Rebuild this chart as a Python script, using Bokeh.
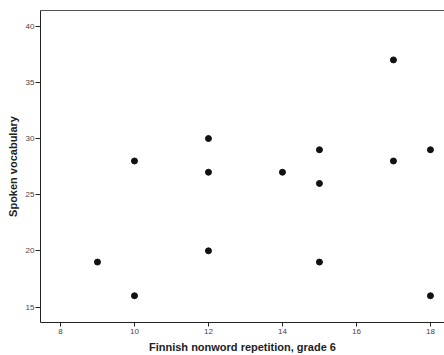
from bokeh.plotting import figure
from bokeh.models import LinearAxis, FixedTicker, Range1d
from bokeh.embed import file_html
from bokeh.resources import INLINE

# Data
nonword_rep = [9, 10, 10, 12, 12, 12, 14, 15, 15, 15, 17, 17, 18, 18]
spoken_vocab = [19, 28, 16, 30, 27, 20, 27, 29, 26, 19, 37, 28, 29, 16]
x_ticks = [8, 10, 12, 14, 16, 18]
y_ticks = [15, 20, 25, 30, 35, 40]

p = figure(width=444, height=355, output_backend="svg", toolbar_location=None,
           x_range=Range1d(7.46, 18.38), y_range=Range1d(13.62, 41.4),
           min_border_left=40, min_border_right=0, min_border_top=10, min_border_bottom=33)
p.background_fill_color = "white"
p.border_fill_color = "white"
p.outline_line_color = None
p.grid.visible = False

p.scatter(nonword_rep, spoken_vocab, size=6, color="#111111")

for ax, ticks in ((p.xaxis[0], x_ticks), (p.yaxis[0], y_ticks)):
    ax.ticker = FixedTicker(ticks=ticks)
    ax.minor_tick_line_color = None
    ax.major_tick_in = 0
    ax.axis_line_color = "#222222"
    ax.major_tick_line_color = "#222222"
    ax.major_label_text_font = "Liberation Sans"
    ax.major_label_text_font_size = "8px"
    ax.major_label_text_color = "#444444"
    ax.axis_label_text_font = "Liberation Sans"
    ax.axis_label_text_font_size = "11px"
    ax.axis_label_text_font_style = "bold"
    ax.axis_label_text_color = "#222222"

p.xaxis[0].axis_label = "Finnish nonword repetition, grade 6"
p.yaxis[0].axis_label = "Spoken vocabulary"
p.xaxis[0].major_tick_out = 4
p.yaxis[0].major_tick_out = 5
p.xaxis[0].major_label_standoff = 2
p.xaxis[0].axis_label_standoff = 4
p.yaxis[0].major_label_standoff = 1
p.yaxis[0].axis_label_standoff = 4

top = LinearAxis(ticker=FixedTicker(ticks=[]), major_tick_out=0, major_tick_in=0,
                 minor_tick_line_color=None, major_label_text_font_size="0px",
                 axis_line_color="#555555")
p.add_layout(top, "above")

open("out.html", "w").write(file_html(p, INLINE))
